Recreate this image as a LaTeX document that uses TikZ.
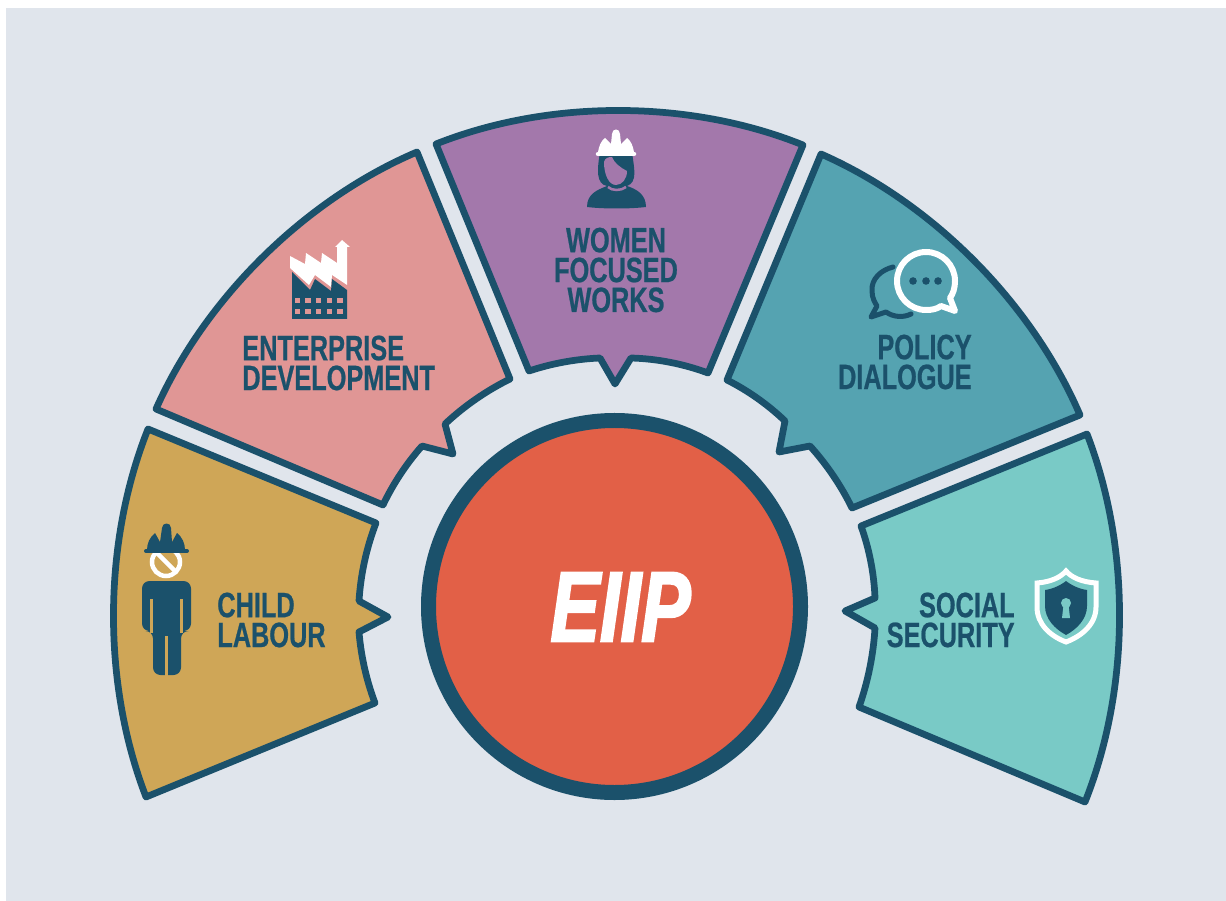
\documentclass[tikz,border=0pt]{standalone}
\usepackage{fontspec}
\newfontfamily\tagfont[FakeStretch=0.72,FakeBold=0.6]{Liberation Sans}
\newfontfamily\eiipfont[FakeStretch=0.74,FakeBold=2]{Liberation Sans}
\definecolor{navy}{HTML}{1B516B}
\definecolor{pagebg}{HTML}{E0E5EC}
\definecolor{goldfill}{HTML}{CFA657}
\definecolor{pinkfill}{HTML}{E09695}
\definecolor{plumfill}{HTML}{A378AB}
\definecolor{tealfill}{HTML}{55A3B1}
\definecolor{aquafill}{HTML}{79CAC6}
\definecolor{hubfill}{HTML}{E26047}
\tikzset{
  sector/.style={draw=navy,line width=1.35mm,line join=round},
  rim/.style={bend left=#1,looseness=.85},
  hollow/.style={bend right=#1,looseness=.85},
  tagtext/.style={text=navy,inner sep=0pt,font=\tagfont\bfseries\fontsize{20}{17}\selectfont},
}
\begin{document}
\begin{tikzpicture}[x=0.2mm,y=-0.2mm]
\useasboundingbox (0,0) rectangle (1226,901);
\fill[pagebg] (6,8) rectangle (1226,901);

% sectors
\draw[sector,fill=goldfill] (146,797) to[rim=21.4] (148,429) -- (376,523)
  to[hollow=8.8] (359,601) -- (388,617) -- (359,632) to[hollow=8] (375,703) -- cycle;
\draw[sector,fill=pinkfill] (156,409) to[rim=21.5] (417,152) -- (510,379)
  to[hollow=8.5] (445,424) -- (453,454) -- (422,446) to[hollow=8] (383,505) -- cycle;
\draw[sector,fill=plumfill] (436,144) to[rim=21.8] (803,145) -- (708,373)
  to[hollow=9.5] (631,358) -- (615,384) -- (600,358) to[hollow=8] (529,371) -- cycle;
\draw[sector,fill=tealfill] (821,154) to[rim=21.5] (1080,415) -- (852,508)
  to[hollow=8] (810,446) -- (779,452) -- (785,421) to[hollow=8.5] (727,380) -- cycle;
\draw[sector,fill=aquafill] (1087,434) to[rim=21.4] (1085,802) -- (859,707)
  to[hollow=8] (875,628) -- (845,611) -- (875,598) to[hollow=8.8] (861,526) -- cycle;

% hub
\node[circle,draw=navy,fill=hubfill,line width=3mm,minimum size=74.4mm,inner sep=0pt] (hub) at (614.5,606.5) {};
\node[text=white,font=\eiipfont\bfseries\itshape\fontsize{57}{57}\selectfont] (eiip) at (620.5,607) {EIIP};

% labels
\node[tagtext,anchor=west,align=left] (child) at (217,620) {CHILD\\LABOUR};
\node[tagtext,anchor=west,align=left] (enterprise) at (242,363) {ENTERPRISE\\DEVELOPMENT};
\node[tagtext,align=center] (women) at (616,270) {WOMEN\\FOCUSED\\WORKS};
\node[tagtext,anchor=east,align=right] (policy) at (972,362) {POLICY\\DIALOGUE};
\node[tagtext,anchor=east,align=right] (social) at (1015,620) {SOCIAL\\SECURITY};

% child icon
\fill[navy,rounded corners=1.5mm] (142,631) -- (142,581) -- (191,581) -- (191,631) -- (181,631)
  -- (181,675) -- (153,675) -- (153,631) -- cycle;
\draw[goldfill,line width=.5mm] (151.5,599) -- (151.5,633) (181.5,599) -- (181.5,633);
\draw[goldfill,line width=.5mm] (166.5,636) -- (166.5,676);
\draw[white,line width=.9mm] (166,562) circle (14);
\draw[white,line width=.9mm] (157,553) -- (175,571);
\fill[navy] (147,550) .. controls (147,543) and (150,537) .. (155,533) -- (160,542) -- (162,528)
  .. controls (162,522) and (171,522) .. (171,528) -- (172,542) -- (177,533)
  .. controls (182,537) and (185,543) .. (185,550) -- cycle;
\draw[navy,line width=.8mm,line cap=round] (146,551) -- (187,551);

% factory icon
\fill[white] (290,256) -- (305,264) -- (306,253) -- (321,263) -- (322,253) -- (337,263) -- (337,247)
  -- (335,247) -- (342,240) -- (350,247) -- (347,247) -- (347,285) -- (332,275) -- (331,287)
  -- (315,275) -- (309,285) -- (290,268) -- cycle;
\fill[navy] (292,272) -- (310,290) -- (315,279) -- (331,291) -- (332,279) -- (347,290) -- (347,319) -- (292,319) -- cycle;
\foreach \x in {297.3,308,318.7,329.3,340}
  \foreach \y in {300.7,311.3}
    \fill[pinkfill] (\x-2.6,\y-2.6) rectangle (\x+2.6,\y+2.6);

% woman icon
\fill[navy] (587,207) .. controls (587,194) and (597,190) .. (607,186)
  .. controls (596,184) and (597,170) .. (600,152) -- (632,152)
  .. controls (634,168) and (638,182) .. (627,186)
  .. controls (636,189) and (646,194) .. (646,207) .. controls (630,209) and (603,209) .. (587,207) -- cycle;
\fill[plumfill] (604,162) .. controls (605,158) and (608,157) .. (612,157)
  .. controls (614,163) and (621,168) .. (627,171)
  .. controls (627,179) and (622,185) .. (616,185) .. controls (609,185) and (604,175) .. (604,162) -- cycle;
\draw[plumfill,line width=.5mm] (608,187) .. controls (612,191) and (621,191) .. (626,187);
\fill[white] (598,152) .. controls (599,146) and (601,141) .. (605,138) -- (611,144) -- (612,134)
  .. controls (612,128) and (620,128) .. (620,134) -- (621,144) -- (627,138)
  .. controls (631,141) and (633,146) .. (634,152) -- cycle;
\draw[white,line width=.9mm,line cap=round] (598,154) -- (634,154);

% bubbles icon
\draw[navy,line width=1mm,line cap=round,line join=round] (893,267) .. controls (881,270) and (871,279) .. (872,291)
  .. controls (872,298) and (875,303) .. (877,306) -- (871,317) -- (886,312)
  .. controls (893,317) and (903,318) .. (911,314);
\draw[white,line width=1.2mm,fill=tealfill,line join=round] (926,252) .. controls (942,252) and (955,265) .. (955,281)
  .. controls (955,288) and (953,294) .. (950,298) -- (955,311) -- (941,306)
  .. controls (937,309) and (932,310) .. (926,310) .. controls (910,310) and (897,297) .. (897,281)
  .. controls (897,265) and (910,252) .. (926,252) -- cycle;
\foreach \x in {913,926,938}
  \fill[navy] (\x,281) circle (3.8);

% shield icon
\draw[white,line width=1mm,line join=miter] (1066,571) .. controls (1071,577) and (1081,582) .. (1096,583)
  -- (1096,607) .. controls (1096,624) and (1082,636) .. (1066,642)
  .. controls (1050,636) and (1037,624) .. (1037,607) -- (1037,583)
  .. controls (1051,582) and (1061,577) .. (1066,571) -- cycle;
\fill[navy] (1066,581) .. controls (1071,585) and (1079,589) .. (1087,590)
  -- (1087,606) .. controls (1087,619) and (1077,629) .. (1066,635)
  .. controls (1055,629) and (1045,619) .. (1045,606) -- (1045,590)
  .. controls (1053,589) and (1061,585) .. (1066,581) -- cycle;
\fill[aquafill] (1066,603) circle (5);
\fill[aquafill] (1063.5,605) -- (1068.5,605) -- (1070,618) -- (1062,618) -- cycle;
\end{tikzpicture}
\end{document}
